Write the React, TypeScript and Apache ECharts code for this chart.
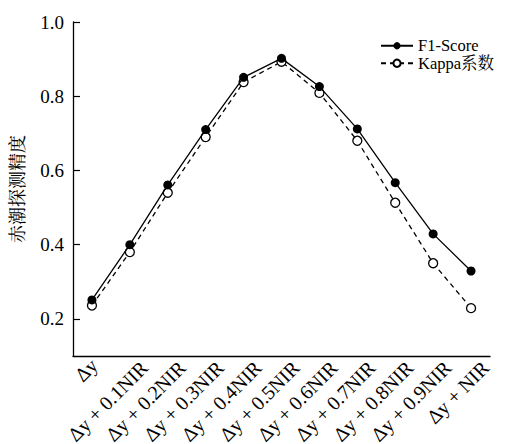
import React, { useEffect, useRef } from "react";
import * as echarts from "echarts";

const categories = [
  "Δy",
  "Δy + 0.1NIR",
  "Δy + 0.2NIR",
  "Δy + 0.3NIR",
  "Δy + 0.4NIR",
  "Δy + 0.5NIR",
  "Δy + 0.6NIR",
  "Δy + 0.7NIR",
  "Δy + 0.8NIR",
  "Δy + 0.9NIR",
  "Δy + NIR",
];
const f1Score = [0.251, 0.4, 0.561, 0.71, 0.851, 0.902, 0.826, 0.712, 0.567, 0.429, 0.329];
const kappa = [0.236, 0.38, 0.54, 0.69, 0.838, 0.893, 0.809, 0.68, 0.513, 0.35, 0.229];
const yTicks = [0.2, 0.4, 0.6, 0.8, 1.0];

const FONT = "'Liberation Serif', 'Times New Roman', 'Noto Serif CJK SC', 'Noto Sans CJK SC', serif";

export default function App() {
  const ref = useRef<HTMLDivElement>(null);
  useEffect(() => {
    if (!ref.current) return;
    const chart = echarts.init(ref.current, null, { renderer: "svg" });
    chart.setOption({
      animation: false,
      backgroundColor: "#fff",
      textStyle: { fontFamily: FONT, color: "#000" },
      grid: { left: 73, right: 18, top: 22, bottom: 88, outerBoundsMode: "none", containLabel: false },
      legend: {
        orient: "vertical",
        left: 380,
        top: 37,
        padding: 0,
        itemGap: 0,
        itemWidth: 32,
        itemHeight: 9,
        data: ["F1-Score", "Kappa系数"],
        textStyle: { fontFamily: FONT, fontSize: 16.5, lineHeight: 17.5, color: "#000" },
      },
      xAxis: {
        type: "category",
        data: categories,
        boundaryGap: true,
        axisLine: { lineStyle: { color: "#000", width: 1.3 } },
        axisTick: { alignWithLabel: true, inside: true, length: 7, lineStyle: { color: "#000", width: 1.2 } },
        axisLabel: {
          rotate: 45,
          interval: 0,
          margin: -6,
          fontSize: 20,
          lineHeight: 20,
          fontFamily: FONT,
          color: "#000",
          formatter: (v: string, i: number) => (i === 0 ? "{p0|}\n" + v + "{sp|}" : "{p|}\n" + v),
          rich: {
            p: { lineHeight: 41, fontSize: 20 },
            p0: { lineHeight: 20, fontSize: 20 },
            sp: { width: 7, fontSize: 20 },
          },
        },
        splitLine: { show: false },
      },
      yAxis: {
        type: "value",
        min: 0.1,
        max: 1.0,
        name: "赤潮探测精度",
        nameLocation: "middle",
        nameGap: 46,
        nameTextStyle: { fontSize: 18, fontFamily: FONT, color: "#000" },
        axisLine: { show: true, lineStyle: { color: "#000", width: 1.3 } },
        axisTick: { show: true, inside: true, length: 7, customValues: yTicks, lineStyle: { color: "#000", width: 1.2 } },
        axisLabel: {
          customValues: yTicks,
          formatter: (v: number) => v.toFixed(1),
          fontSize: 19,
          fontFamily: FONT,
          color: "#000",
          margin: 9,
        },
        splitLine: { show: false },
      },
      series: [
        {
          name: "F1-Score",
          type: "line",
          data: f1Score,
          symbol: "circle",
          symbolSize: 9,
          itemStyle: { color: "#000" },
          lineStyle: { color: "#000", width: 1.3 },
          z: 3,
        },
        {
          name: "Kappa系数",
          type: "line",
          data: kappa,
          symbol: "circle",
          symbolSize: 9,
          itemStyle: { color: "#fff", borderColor: "#000", borderWidth: 1.3 },
          lineStyle: { color: "#000", width: 1.3, type: [5, 4] },
          z: 2,
        },
      ],
    });
    return () => chart.dispose();
  }, []);
  return (
    <div
      ref={ref}
      style={{ position: "fixed", left: 0, top: 0, width: 508, height: 444, background: "#fff" }}
    />
  );
}
